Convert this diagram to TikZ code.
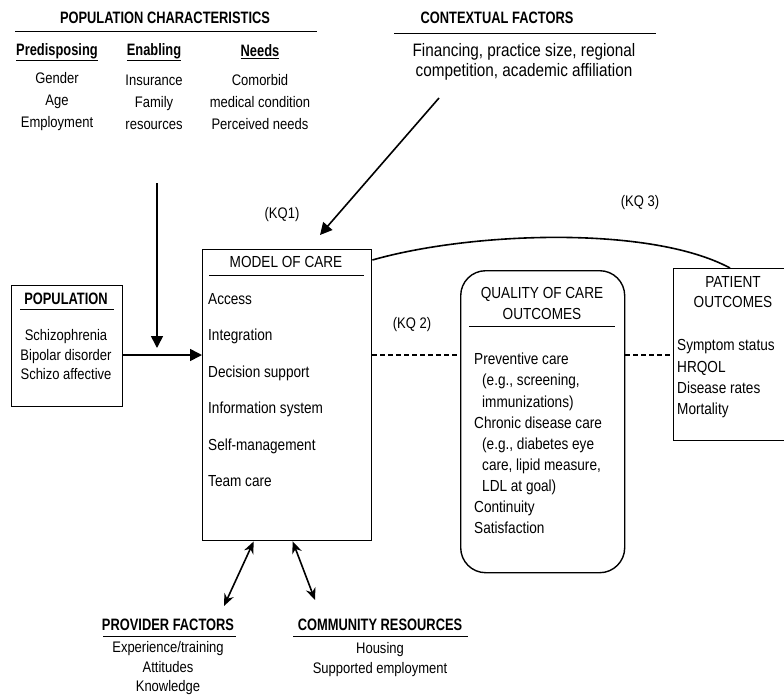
\documentclass[tikz,border=0pt]{standalone}
\usepackage{fontspec}
\setmainfont{Liberation Sans}[FakeStretch=0.85, BoldFeatures={FakeStretch=0.78}]
\usetikzlibrary{positioning,arrows.meta}

\begin{document}
\begin{tikzpicture}[
x=1pt, y=-1pt,
head/.style={font=\bfseries\fontsize{16.5}{18}\selectfont, inner sep=0pt},
plain/.style={font=\fontsize{15.3}{22}\selectfont, align=center, inner sep=0pt},
item/.style={font=\fontsize{16}{21.1}\selectfont, align=left, inner sep=0pt, anchor=west},
box/.style={draw, line width=1.4pt, anchor=north west, inner sep=0pt},
rule/.style={line width=0.8pt},
arrow/.style={-{Triangle[length=12pt,width=12pt]}, line width=1.6pt},
twoway/.style={{Stealth[length=12pt,width=10pt]}-{Stealth[length=12pt,width=10pt]}, line width=1.6pt},
link/.style={dash pattern=on 5pt off 3pt, line width=1.6pt}
]
\useasboundingbox (0,0) rectangle (784,694);

% population characteristics
\node[head] (popchar) at (165,18) {POPULATION CHARACTERISTICS};
\draw[rule] (15,31) -- (317,31);
\node[head] (predisp) at (57,52) {\underline{Predisposing}};
\node[head] (enabling) at (154,52) {\underline{Enabling}};
\node[head] (needs) at (260,52) {\underline{Needs}};
\node[plain] (predlist) at (57,102) {Gender\\Age\\Employment};
\node[plain] (enablist) at (154,102) {Insurance\\Family\\resources};
\node[plain] (needlist) at (260,102) {Comorbid\\medical condition\\Perceived needs};

% contextual factors
\node[head] (context) at (497,18) {CONTEXTUAL FACTORS};
\draw[rule] (394,33) -- (656,33);
\node[plain, font=\fontsize{18}{20}\selectfont] (contlist) at (524,62) {Financing, practice size, regional\\competition, academic affiliation};

% key questions
\node[plain] (kq1) at (282,215) {(KQ1)};
\node[plain] (kq2) at (412,325) {(KQ 2)};
\node[plain] (kq3) at (640,203) {(KQ 3)};

% population
\node[box, minimum width=111pt, minimum height=121pt] (pop) at (11,285) {};
\node[head] (poptitle) at (66,299) {POPULATION};
\draw[rule] (20,309) -- (114,309);
\node[plain, font=\fontsize{15.3}{19.5}\selectfont] (poplist) at (66,355) {Schizophrenia\\Bipolar disorder\\Schizo affective};

% model of care
\node[box, minimum width=169pt, minimum height=291pt] (model) at (202,249) {};
\node[plain, font=\fontsize{16}{20}\selectfont] (modeltitle) at (286,262) {MODEL OF CARE};
\draw[rule] (209,275) -- (364,275);
\node[item, font=\fontsize{16}{36.4}\selectfont] (modellist) at (208,390)
  {Access\\Integration\\Decision support\\Information system\\Self-management\\Team care};

% quality of care outcomes
\node[box, rounded corners=25pt, minimum width=164pt, minimum height=302pt] (quality) at (460,270) {};
\node[plain, font=\fontsize{16}{21}\selectfont] (qualtitle) at (542,303) {QUALITY OF CARE\\OUTCOMES};
\draw[rule] (469,326) -- (615,326);
\node[item] (quallist) at (474,443.5)
  {Preventive care\\\hspace*{8pt}(e.g., screening,\\\hspace*{8pt}immunizations)\\Chronic disease care\\\hspace*{8pt}(e.g., diabetes eye\\\hspace*{8pt}care, lipid measure,\\\hspace*{8pt}LDL at goal)\\Continuity\\Satisfaction};

% patient outcomes
\node[box, minimum width=120pt, minimum height=172pt] (patient) at (673,268) {};
\node[plain, font=\fontsize{16}{20}\selectfont] (pattitle) at (733,292) {PATIENT\\OUTCOMES};
\node[item, font=\fontsize{16}{21.3}\selectfont] (patlist) at (677,379) {Symptom status\\HRQOL\\Disease rates\\Mortality};

% provider factors and community resources
\node[head] (provider) at (168,625) {PROVIDER FACTORS};
\draw[rule] (103,636) -- (236,636);
\node[plain, font=\fontsize{15.3}{19.5}\selectfont] (provlist) at (168,668.5) {Experience/training\\Attitudes\\Knowledge};
\node[head] (community) at (380,625) {COMMUNITY RESOURCES};
\draw[rule] (293,636) -- (468,636);
\node[plain, font=\fontsize{15.3}{19.5}\selectfont] (commlist) at (380,659.5) {Housing\\Supported employment};

% connectors
\coordinate (popout) at (122,355);
\coordinate (enabtop) at (157,183);
\coordinate (join) at (157,348);
\coordinate (conttop) at (439,98);
\coordinate (conttip) at (320,235);
\coordinate (provtip) at (224,606);
\coordinate (commtip) at (315,600);

\draw[arrow] (popout) -- (popout -| model.west);
\draw[arrow] (enabtop) -- (join);
\draw[arrow] (conttop) -- (conttip);
\draw[link] (popout -| model.east) -- (popout -| quality.west);
\draw[link] (popout -| quality.east) -- (popout -| patient.west);
\draw[line width=1.6pt] ([yshift=-11pt]model.north east) .. controls (470,232) and (650,225) .. (730,268);
\draw[twoway] ([xshift=-33.5pt]model.south) -- (provtip);
\draw[twoway] ([xshift=5.5pt]model.south) -- (commtip);
\end{tikzpicture}
\end{document}
